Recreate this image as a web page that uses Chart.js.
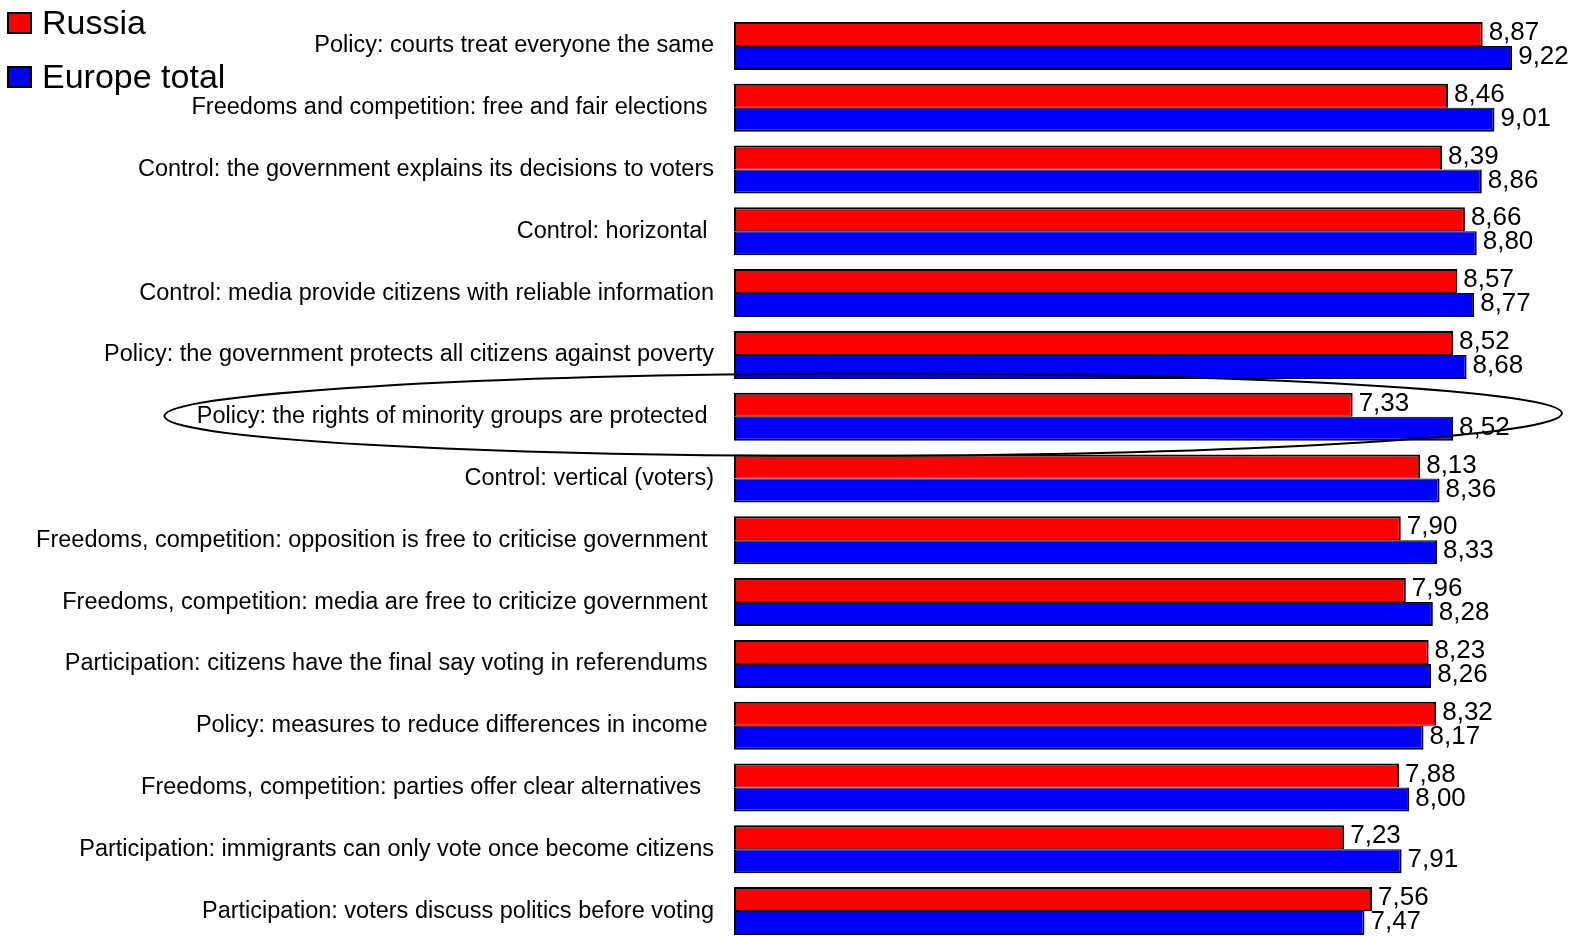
<!DOCTYPE html>
<html>
<head>
<meta charset="utf-8">
<script src="https://cdn.jsdelivr.net/npm/chart.js@4.4.0/dist/chart.umd.min.js"></script>
<style>
  html, body { margin: 0; padding: 0; background: #fff; overflow: hidden; }
  #box { position: relative; width: 1578px; height: 942px; }
</style>
</head>
<body>
<div id="box"><canvas id="chart"></canvas></div>
<script>
// Items of the democracy-values survey, top to bottom
const categories = [
  'Policy: courts treat everyone the same',
  'Freedoms and competition: free and fair elections ',
  'Control: the government explains its decisions to voters',
  'Control: horizontal ',
  'Control: media provide citizens with reliable information',
  'Policy: the government protects all citizens against poverty',
  'Policy: the rights of minority groups are protected ',
  'Control: vertical (voters)',
  'Freedoms, competition: opposition is free to criticise government ',
  'Freedoms, competition: media are free to criticize government ',
  'Participation: citizens have the final say voting in referendums ',
  'Policy: measures to reduce differences in income ',
  'Freedoms, competition: parties offer clear alternatives  ',
  'Participation: immigrants can only vote once become citizens',
  'Participation: voters discuss politics before voting'
];

const seriesNames = ['Russia', 'Europe total'];

const russia = [8.87, 8.46, 8.39, 8.66, 8.57, 8.52, 7.33, 8.13, 7.90, 7.96, 8.23, 8.32, 7.88, 7.23, 7.56];
const europe = [9.22, 9.01, 8.86, 8.80, 8.77, 8.68, 8.52, 8.36, 8.33, 8.28, 8.26, 8.17, 8.00, 7.91, 7.47];

// Row that gets circled, and the horizontal extent of the ring in axis units
const highlightIndex = 6;
const ringFrom = -6.75;
const ringTo = 9.81;

const FONT = '"Liberation Sans", Arial, sans-serif';

// Value printed right after each bar, with a decimal comma
const valueLabels = {
  id: 'valueLabels',
  afterDatasetsDraw(chart) {
    const ctx = chart.ctx;
    ctx.save();
    ctx.font = '26px ' + FONT;
    ctx.fillStyle = '#000';
    ctx.textAlign = 'left';
    ctx.textBaseline = 'middle';
    chart.data.datasets.forEach((ds, di) => {
      chart.getDatasetMeta(di).data.forEach((bar, i) => {
        ctx.fillText(ds.data[i].toFixed(2).replace('.', ','), bar.x + 6, bar.y - 1);
      });
    });
    ctx.restore();
  }
};

// Ring around the highlighted row
const highlightRing = {
  id: 'highlightRing',
  afterDraw(chart) {
    const { ctx, scales: { x, y } } = chart;
    const left = x.getPixelForValue(ringFrom);
    const right = x.getPixelForValue(ringTo);
    const cx = (left + right) / 2;
    const rx = (right - left) / 2;
    const rowH = y.height / categories.length;
    const cy = y.getPixelForValue(highlightIndex) - 2;
    const ry = rowH * 0.665;
    ctx.save();
    ctx.beginPath();
    ctx.ellipse(cx, cy, rx, ry, -0.002, 0, Math.PI * 2);
    ctx.lineWidth = 2;
    ctx.strokeStyle = '#000';
    ctx.stroke();
    ctx.restore();
  }
};

// Series key in the top-left corner
const seriesKey = {
  id: 'seriesKey',
  afterDraw(chart) {
    const ctx = chart.ctx;
    ctx.save();
    ctx.font = '34px ' + FONT;
    ctx.textAlign = 'left';
    ctx.textBaseline = 'alphabetic';
    chart.data.datasets.forEach((ds, i) => {
      const base = 34 + i * 54;
      ctx.fillStyle = ds.backgroundColor;
      ctx.fillRect(8, base - 21, 23, 20);
      ctx.lineWidth = 2;
      ctx.strokeStyle = '#000';
      ctx.strokeRect(8, base - 21, 23, 20);
      ctx.fillStyle = '#000';
      ctx.fillText(ds.label, 42, base);
    });
    ctx.restore();
  }
};

new Chart(document.getElementById('chart'), {
  type: 'bar',
  data: {
    labels: categories,
    datasets: [
      {
        label: seriesNames[0],
        data: russia,
        backgroundColor: '#ff0000',
        borderColor: '#000',
        borderWidth: { top: 2, bottom: 1, left: 2, right: 2 },
        borderSkipped: false
      },
      {
        label: seriesNames[1],
        data: europe,
        backgroundColor: '#0000ff',
        borderColor: '#000',
        borderWidth: { top: 1, bottom: 2, left: 2, right: 2 },
        borderSkipped: false
      }
    ]
  },
  options: {
    indexAxis: 'y',
    responsive: true,
    maintainAspectRatio: false,
    animation: false,
    layout: { padding: { top: 15, bottom: 0, left: 0, right: 0 } },
    datasets: {
      bar: { categoryPercentage: 0.777, barPercentage: 1.0 }
    },
    plugins: {
      legend: { display: false },
      tooltip: { enabled: false }
    },
    scales: {
      x: {
        type: 'linear',
        min: 0,
        max: 10,
        display: false
      },
      y: {
        type: 'category',
        grid: { display: false, drawTicks: false },
        border: { display: false },
        ticks: {
          autoSkip: false,
          padding: 20,
          color: '#000',
          font: { family: FONT, size: 23.5 }
        },
        afterFit(scale) {
          scale.width = 734;
          scale.paddingTop = 0;
          scale.paddingBottom = 0;
        }
      }
    }
  },
  plugins: [valueLabels, highlightRing, seriesKey]
});
</script>
</body>
</html>
